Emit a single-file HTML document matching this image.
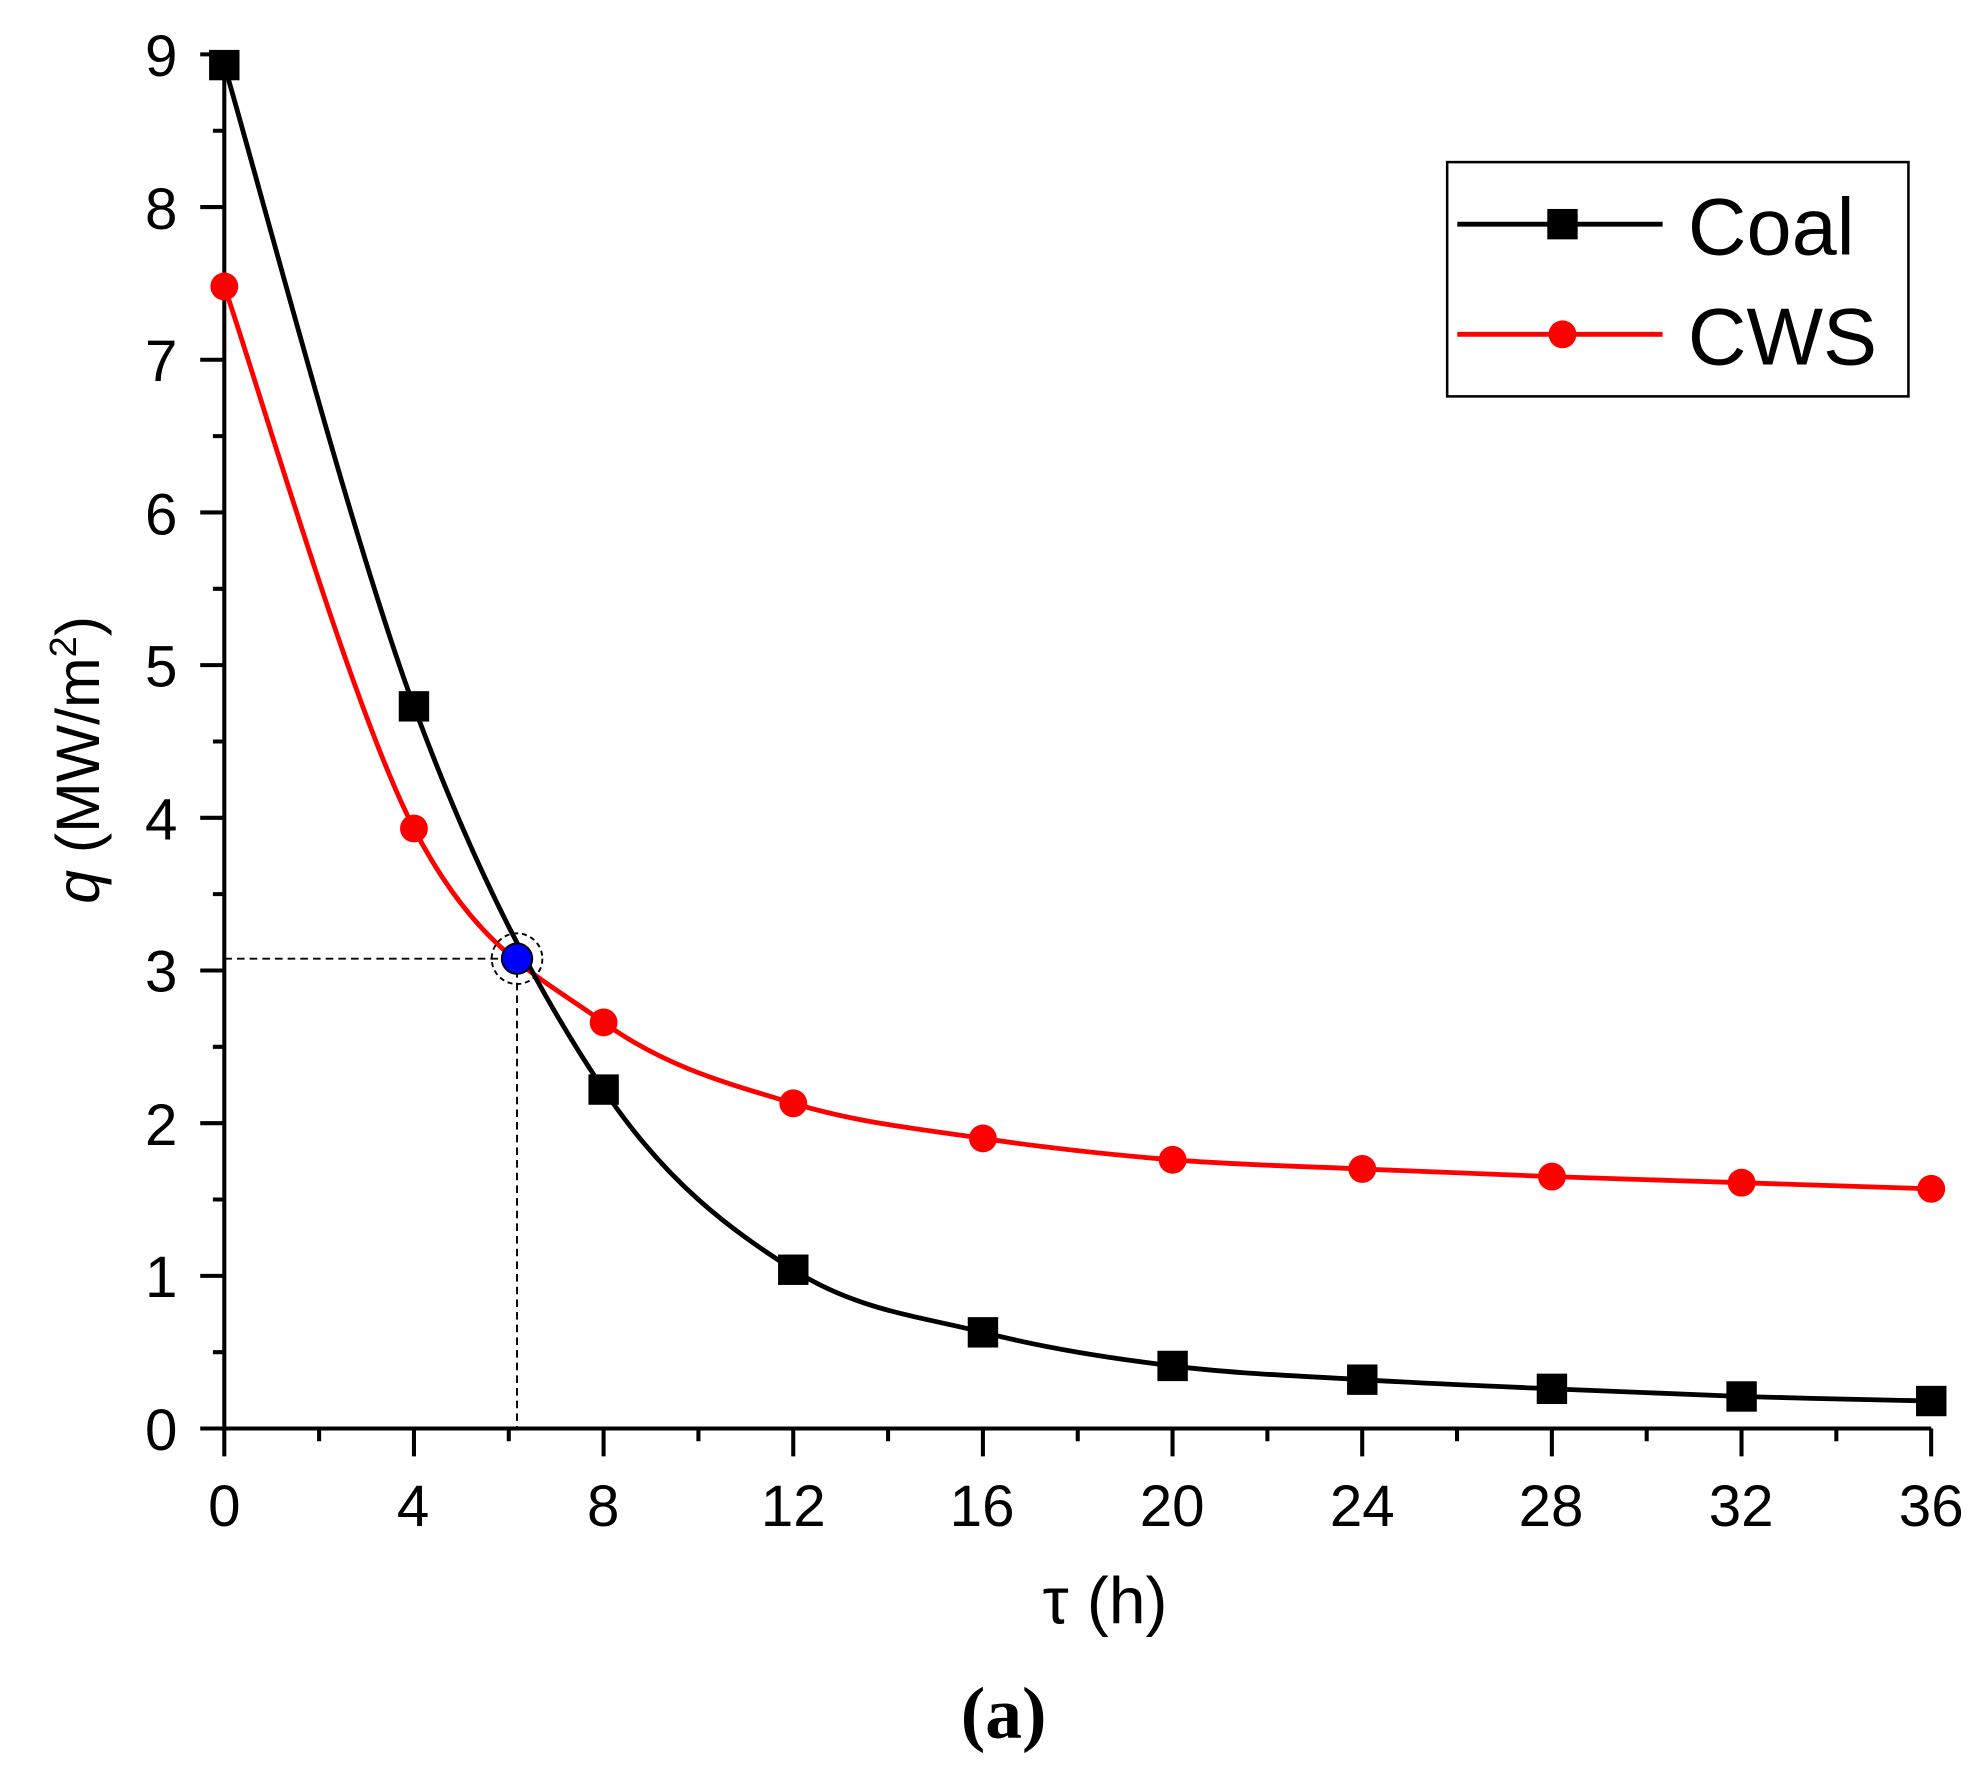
<!DOCTYPE html>
<html><head><meta charset="utf-8"><style>
html,body{margin:0;padding:0;background:#fff;}
svg{display:block;}
text{font-family:"Liberation Sans",Arial,sans-serif;}
</style></head><body>
<svg id="s" width="1987" height="1773" viewBox="0 0 1568 1400" preserveAspectRatio="none" xmlns="http://www.w3.org/2000/svg">
<g id="ax" stroke="#000" stroke-width="3.2" fill="none"></g>
<g id="dl" stroke="#000" stroke-width="1.5" stroke-dasharray="6,4" fill="none">
<path d="M177 757 H408 V1128"/>
</g>
<path id="cws" stroke="#f00" stroke-width="3.8" fill="none"/>
<path id="coal" stroke="#000" stroke-width="3.8" fill="none"/>
<g id="mk"></g>
<circle cx="408" cy="757" r="20" fill="none" stroke="#000" stroke-width="1.5" stroke-dasharray="4,3"/>
<circle cx="408" cy="757" r="12" fill="#0000ff" stroke="#000" stroke-width="1.5"/>
<g font-size="46" fill="#000" text-anchor="end">
<text x="140" y="60">9</text><text x="140" y="181">8</text><text x="140" y="301">7</text>
<text x="140" y="422">6</text><text x="140" y="542">5</text><text x="140" y="663">4</text>
<text x="140" y="783">3</text><text x="140" y="904">2</text><text x="140" y="1024">1</text>
<text x="140" y="1145">0</text>
</g>
<g font-size="46" fill="#000" text-anchor="middle">
<text x="177" y="1205">0</text><text x="326" y="1205">4</text><text x="476" y="1205">8</text>
<text x="626" y="1205">12</text><text x="775" y="1205">16</text><text x="925" y="1205">20</text>
<text x="1075" y="1205">24</text><text x="1224" y="1205">28</text><text x="1374" y="1205">32</text>
<text x="1524" y="1205">36</text>
<text x="872" y="1282" font-size="52">τ (h)</text>
<text x="792" y="1372" style="font-family:'Liberation Serif',serif;font-weight:bold;font-size:58px">(a)</text>
</g>
<text transform="translate(78 600) rotate(-90)" font-size="48" text-anchor="middle"><tspan font-style="italic">q</tspan> (MW/m<tspan dy="-18" font-size="30">2</tspan><tspan dy="18">)</tspan></text>
<rect x="1142" y="128" width="364" height="185" fill="none" stroke="#000" stroke-width="2"/>
<line x1="1150" y1="177" x2="1312" y2="177" stroke="#000" stroke-width="3.8"/>
<rect x="1221" y="165" width="24" height="24" fill="#000"/>
<line x1="1150" y1="264" x2="1312" y2="264" stroke="#f00" stroke-width="3.8"/>
<circle cx="1233" cy="264" r="11" fill="#f00"/>
<text x="1332" y="201" font-size="64">Coal</text>
<text x="1332" y="288" font-size="64">CWS</text>
</svg>
<script>
var X=h=>177+h*37.417, Y=v=>1128-v*120.56;
var ax=document.getElementById('ax'),d='M177 1128 V43 M158 1128 H1524 ';
for(var i=0;i<=18;i++){var y=1128-i*60.28;d+='M177 '+y+' H'+(i%2?168:158)+' ';}
for(var i=0;i<=18;i++){var x=177+i*74.83;d+='M'+x+' 1128 V'+(i%2?1138:1150)+' ';}
ax.innerHTML='<path d="'+d+'"/>';
var T=[0,4,8,12,16,20,24,28,32,36];
var coal=[8.93,4.73,2.22,1.04,0.63,0.41,0.32,0.26,0.21,0.18];
var cws=[7.48,3.93,2.66,2.13,1.90,1.76,1.70,1.65,1.61,1.57];
function cr(v){var p=T.map((t,i)=>[X(t),Y(v[i])]);var s='M'+p[0];
for(var i=0;i<p.length-1;i++){var a=p[i-1]||p[i],b=p[i],c=p[i+1],e=p[i+2]||c;
s+=' C'+(b[0]+(c[0]-a[0])/6)+','+(b[1]+(c[1]-a[1])/6)+' '+(c[0]-(e[0]-b[0])/6)+','+(c[1]-(e[1]-b[1])/6)+' '+c;}return s;}
document.getElementById('coal').setAttribute('d',cr(coal));
document.getElementById('cws').setAttribute('d',cr(cws));
var m='';T.forEach((t,i)=>{m+='<rect x="'+(X(t)-12)+'" y="'+(Y(coal[i])-12)+'" width="24" height="24" fill="#000"/>';
m+='<circle cx="'+X(t)+'" cy="'+Y(cws[i])+'" r="11" fill="#f00"/>';});
document.getElementById('mk').innerHTML=m;
</script>
</body></html>
